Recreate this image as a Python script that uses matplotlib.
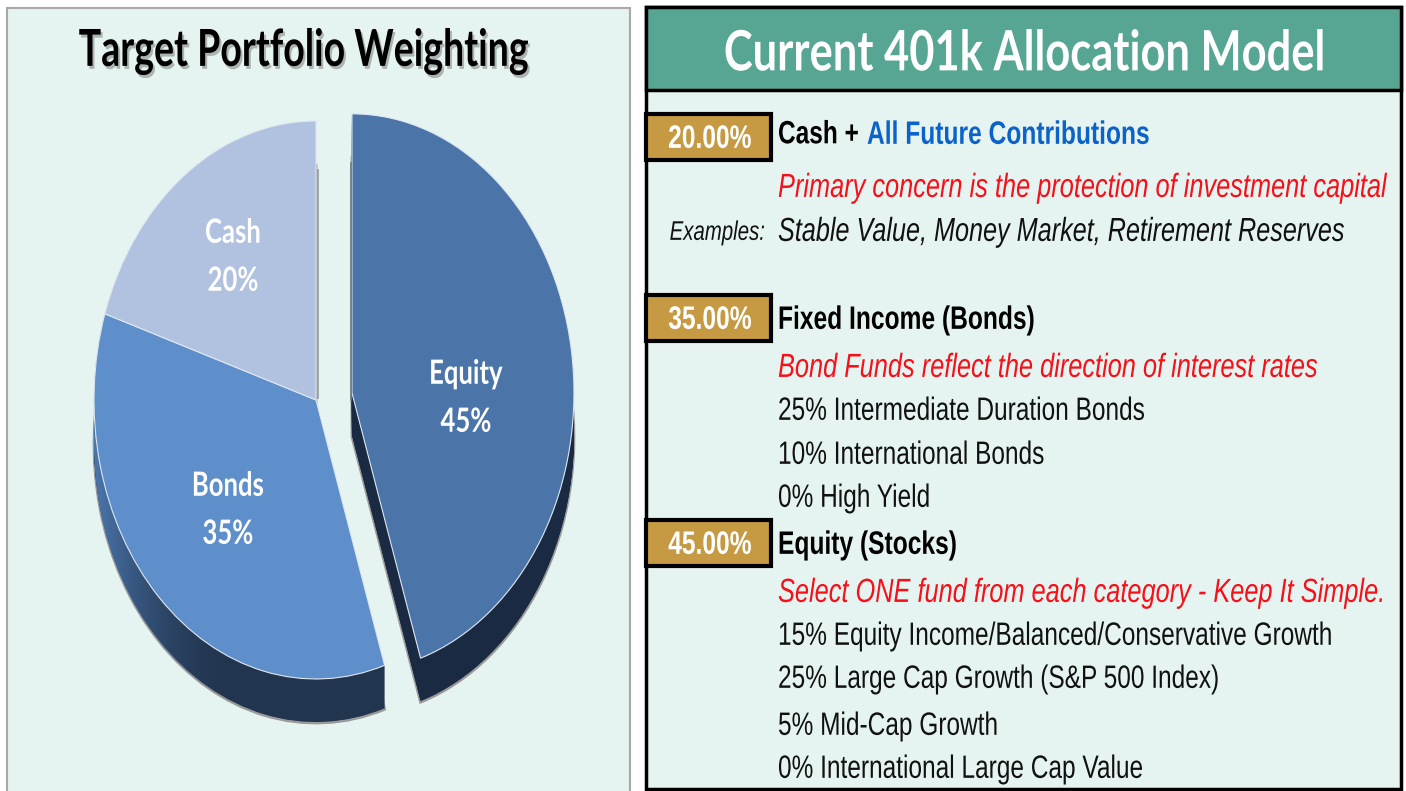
import numpy as np
import matplotlib
matplotlib.use("Agg")
import matplotlib.pyplot as plt
import matplotlib.patheffects as pe
from matplotlib.patches import Rectangle, Polygon
from matplotlib.colors import LinearSegmentedColormap
from matplotlib.transforms import Affine2D

# pie data
slices = ["Equity", "Bonds", "Cash"]
weights = [45, 35, 20]
explode = [0.164, 0, 0]
top_colors = ["#4b75a9", "#5e8fca", "#b0c2df"]
wall_colors = ["#1a2a42", "#22354f", "#22354f"]

# right hand table
pct_labels = ["20.00%", "35.00%", "45.00%"]
pct_y = [137, 318, 543]
headings = ["Fixed Income (Bonds)", "Equity (Stocks)"]
heading_y = [318, 543]
red_lines = ["Primary concern is the protection of investment capital",
             "Bond Funds reflect the direction of interest rates",
             "Select ONE fund from each category - Keep It Simple."]
red_y = [186, 366, 591]
plain_lines = ["25% Intermediate Duration Bonds", "10% International Bonds", "0% High Yield",
               "15% Equity Income/Balanced/Conservative Growth", "25% Large Cap Growth (S&P 500 Index)",
               "5% Mid-Cap Growth", "0% International Large Cap Value"]
plain_y = [410, 454, 497, 635, 678, 725, 768]

SANS = "Liberation Sans"
W, H = 1406, 791
# pie geometry in pixels, the source pie is stretched taller than wide
cx, cy, rx, ry, depth = 316, 400, 222, 279, 44


class Tall(pe.AbstractPathEffect):
    # the source screenshot is stretched, so stretch the glyphs up from the baseline
    def __init__(self, sy, shadow=None):
        super().__init__()
        self.sy = sy
        self.shadow = shadow

    def draw_path(self, renderer, gc, tpath, affine, rgbFace=None):
        a = Affine2D().scale(1, self.sy) + affine
        if self.shadow:
            gc2 = renderer.new_gc()
            gc2.copy_properties(gc)
            gc2.set_alpha(0.4)
            renderer.draw_path(gc2, tpath, a + Affine2D().translate(*self.shadow), (0.33, 0.33, 0.33))
            gc2.restore()
        renderer.draw_path(gc, tpath, a, rgbFace)


fig = plt.figure(figsize=(W / 100, H / 100), dpi=100, facecolor="white")

bg = fig.add_axes([0, 0, 1, 1], zorder=0)
bg.set_xlim(0, W)
bg.set_ylim(H, 0)
bg.axis("off")
bg.add_patch(Rectangle((7, 8), 623, 800, fc="#e5f4f0", ec="#a8a8a8", lw=1.5))
bg.add_patch(Rectangle((646, 7), 755, 782, fc="#e5f4f0", ec="black", lw=2.5))
bg.add_patch(Rectangle((646, 7), 755, 83, fc="#57a593", ec="black", lw=2.5))

# pie, stacked copies give the side wall
pie_ax = fig.add_axes([0, 0, 1, 1], zorder=1)
pie_ax.patch.set_visible(False)
for off in range(depth, 0, -1):
    edge = "#9a9a9a" if off == depth else "none"
    pie_ax.pie(weights, explode=explode, colors=wall_colors, startangle=90, counterclock=False,
               center=(0, -off / ry), radius=1, wedgeprops={"linewidth": 2 if off == depth else 0, "edgecolor": edge})

# lighter left end of the bonds wall
start = np.radians(90 - 360 * weights[0] / 100)
end = start - np.radians(360 * weights[1] / 100)
t = np.linspace(start, end, 200)
wall = np.r_[np.c_[np.cos(t), np.sin(t)], np.c_[np.cos(t[::-1]), np.sin(t[::-1]) - depth / ry]]
clip = Polygon(wall, closed=True, fc="none", ec="none", transform=pie_ax.transData)
pie_ax.add_patch(clip)
shade = LinearSegmentedColormap.from_list("wall", [(0.30, 0.47, 0.68, 1), (0.13, 0.21, 0.31, 0)])
img = pie_ax.imshow(np.linspace(0, 1, 256)[None, :], cmap=shade, aspect="auto", zorder=2.5,
                    extent=(-1.0, -0.35, -1.3, 0.2))
img.set_clip_path(clip)

wedges, _ = pie_ax.pie(weights, explode=explode, colors=top_colors, startangle=90, counterclock=False,
                       center=(0, 0), radius=1, wedgeprops={"linewidth": 0.8, "edgecolor": "#dfe7f0", "zorder": 3})
pie_ax.set_aspect("auto")
pie_ax.set_xlim(-cx / rx, (W - cx) / rx)
pie_ax.set_ylim(-(H - cy) / ry, cy / ry)

# text layer
ax = fig.add_axes([0, 0, 1, 1], zorder=2)
ax.patch.set_visible(False)
ax.set_xlim(0, W)
ax.set_ylim(H, 0)
ax.axis("off")


def put(x, y, s, size, sy=1.32, shadow=None, family=SANS, **kw):
    # keep the visual centre on y after the stretch
    y2 = y + (sy - 1) * 0.36 * size * 100 / 72 + 1
    return ax.text(x, y2, s, fontsize=size, family=family, va="center",
                   path_effects=[Tall(sy, shadow)], **kw)


# thin shadow lines beside the gap
ax.plot([318, 318], [170, 398], color="#8f9aa3", lw=1.2)
ax.plot([351, 351], [163, 400], color="#6f7a85", lw=1.2)

put(303, 49, "Target Portfolio Weighting", 27, sy=1.36, shadow=(2, -3), family="Lato", ha="center",
    fontweight="bold", color="black")

for name, w, x, y in zip(["Cash", "Equity", "Bonds"], [20, 45, 35], [233, 466, 228], [231, 372, 484]):
    put(x, y, name, 18.5, sy=1.3, family="Lato", ha="center", fontweight="bold", color="white")
    put(x, y + 48, f"{w}%", 18.5, sy=1.3, family="Lato", ha="center", fontweight="bold", color="white")

put(1025, 52, "Current 401k Allocation Model", 31.3, sy=1.28, family="Lato", ha="center",
    fontweight="bold", color="white")

for lab, y in zip(pct_labels, pct_y):
    ax.add_patch(Rectangle((646, y - 23), 125, 46, fc="#c69a42", ec="black", lw=3))
    put(710, y, lab, 17.7, ha="center", color="white", fontweight="bold")

put(778, 133, "Cash +", 17.6, ha="left", fontweight="bold", color="black")
put(867, 133, "All Future Contributions", 17.7, ha="left", fontweight="bold", color="#0b63c9")
for txt, y in zip(headings, heading_y):
    put(778, y, txt, 17.7, ha="left", fontweight="bold", color="black")
for txt, y in zip(red_lines, red_y):
    put(778, y, txt, 18.25, ha="left", style="italic", color="#f5101a")
put(765, 231, "Examples:", 14.7, ha="right", style="italic", color="#111111")
put(778, 230, "Stable Value, Money Market, Retirement Reserves", 18.15, ha="left", style="italic", color="#111111")
for txt, y in zip(plain_lines, plain_y):
    put(778, y, txt, 17.6, ha="left", color="#111111")

fig.savefig("out.png", dpi=100)
